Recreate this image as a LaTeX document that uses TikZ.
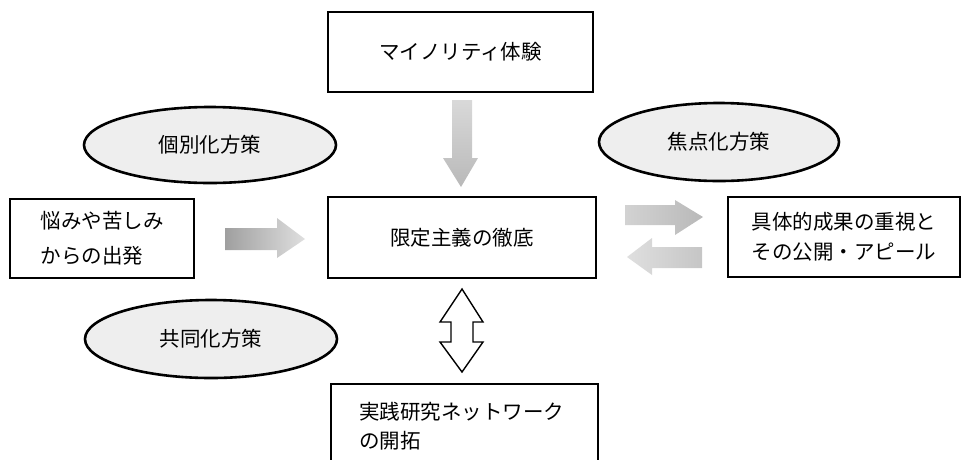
\documentclass[tikz,border=0pt]{standalone}
\usepackage{fontspec}
\newfontfamily\jp{Noto Sans CJK JP}
\tikzset{
  box/.style={draw=black, line width=2.4pt, fill=white, inner sep=0pt, font=\jp\fontsize{20.5}{30}\selectfont},
  oval/.style={draw=black, line width=2.6pt, ellipse, fill=gray!13, inner sep=0pt, font=\jp\fontsize{20.5}{24}\selectfont},
  garrow/.style={draw=none},
  dblarrow/.style={draw=black, line width=1.4pt, fill=white, line join=miter}
}
\usetikzlibrary{shapes.geometric}
\begin{document}
\begin{tikzpicture}[x=1pt,y=-1pt]
\useasboundingbox (0,0) rectangle (961,459);
\clip (0,0) rectangle (961,459);
% boxes
\node[box, minimum width=265pt, minimum height=80pt] (top) at (460.5,52) {マイノリティ体験};
\node[box, minimum width=268pt, minimum height=81pt] (mid) at (462,237.5) {限定主義の徹底};
\node[box, minimum width=184pt, minimum height=79pt, align=left, font=\jp\fontsize{20.5}{35}\selectfont] (left) at (102,238.5) {悩みや苦しみ\\からの出発};
\node[box, minimum width=232pt, minimum height=80pt, align=left, font=\jp\fontsize{20.5}{30}\selectfont] (right) at (844,237) {具体的成果の重視と\\その公開・アピール};
\node[box, minimum width=267pt, minimum height=83pt, align=left, font=\jp\fontsize{20.5}{29}\selectfont, anchor=north west, text width=211pt] (bot) at (330,383) {実践研究ネットワーク\\の開拓};
% ellipses
\node[oval, minimum width=252pt, minimum height=76pt] (e1) at (210,145) {個別化方策};
\node[oval, minimum width=240pt, minimum height=78pt] (e2) at (719,142) {焦点化方策};
\node[oval, minimum width=252pt, minimum height=78pt] (e3) at (211,339) {共同化方策};
% gray block arrows
\shade[garrow, top color=gray!30, bottom color=gray!55]
  (452,100) -- (472,100) -- (472,158) -- (478,158) -- (461,187) -- (443,158) -- (452,158) -- cycle;
\shade[garrow, left color=gray!75, right color=gray!25]
  (225,228) -- (277,228) -- (277,218) -- (305,239) -- (277,258) -- (277,250) -- (225,250) -- cycle;
\shade[garrow, left color=gray!35, right color=gray!55]
  (625,205) -- (675,205) -- (675,200) -- (703,217) -- (675,235) -- (675,225) -- (625,225) -- cycle;
\shade[garrow, left color=gray!25, right color=gray!45]
  (702,247) -- (652,247) -- (652,238) -- (627,257) -- (652,275) -- (652,268) -- (702,268) -- cycle;
% double arrow
\draw[dblarrow] (462,289) -- (483,322) -- (473,322) -- (473,342) -- (483,342) -- (462,372)
  -- (440,342) -- (451,342) -- (451,322) -- (440,322) -- cycle;
\end{tikzpicture}
\end{document}
